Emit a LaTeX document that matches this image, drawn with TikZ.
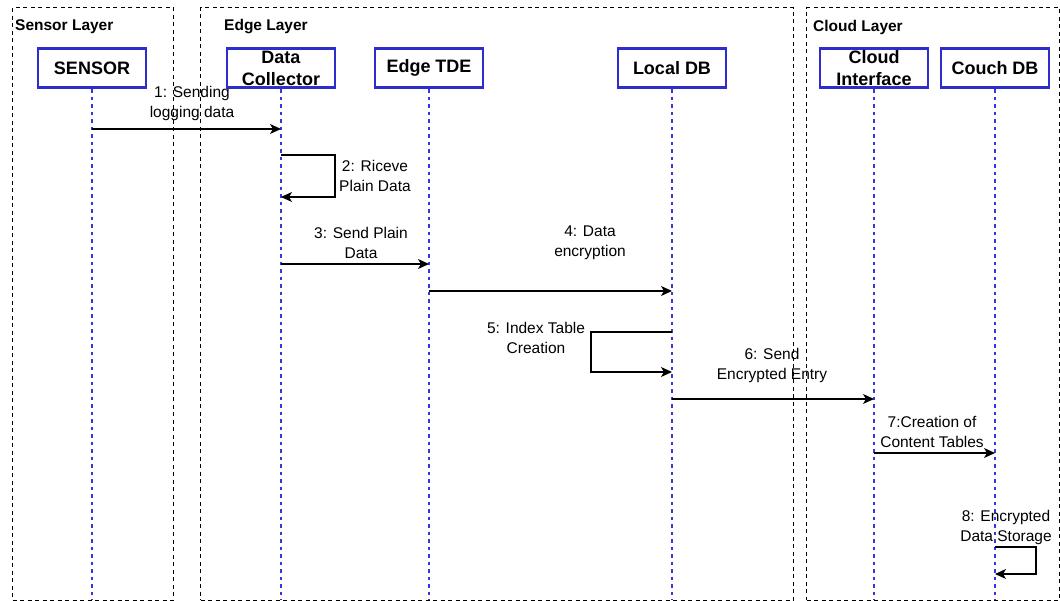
\documentclass[tikz,border=0pt]{standalone}
\usepackage{fontspec}
\setmainfont{Liberation Sans}
\usetikzlibrary{arrows.meta}
\definecolor{lifeblue}{RGB}{55,55,225}
\definecolor{boxblue}{RGB}{45,45,205}
\begin{document}
\begin{tikzpicture}[x=1pt,y=-1pt,
  layer/.style={draw=black, line width=1.2pt, dash pattern=on 4pt off 3.5pt,
    anchor=north west, inner sep=0pt},
  layertitle/.style={anchor=west, inner sep=0pt,
    font=\fontsize{15.5}{18}\selectfont\bfseries},
  actor/.style={draw=boxblue, line width=2.6pt, fill=white, minimum width=108pt,
    minimum height=39.5pt, inner sep=0pt, align=center,
    font=\fontsize{18}{22}\selectfont\bfseries},
  lifeline/.style={draw=lifeblue, line width=1.3pt, dash pattern=on 3.5pt off 4pt},
  msg/.style={draw=black, line width=1.1pt,
    -{Stealth[length=11pt,width=10pt,inset=3pt]}},
  msglabel/.style={align=center, inner sep=0pt,
    font=\fontsize{15.5}{20}\selectfont}
]
\useasboundingbox (0,0) rectangle (1060,601);

% layer frames
\node[layer, minimum width=161pt, minimum height=592.5pt] (sensorlayer) at (12,7) {};
\node[layer, minimum width=593pt, minimum height=592.5pt] (edgelayer) at (200,7) {};
\node[layer, minimum width=253pt, minimum height=592.5pt] (cloudlayer) at (806,7) {};
\node[layertitle] (sensortitle) at (15,27) {Sensor Layer};
\node[layertitle] (edgetitle) at (224,27) {Edge Layer};
\node[layertitle] (cloudtitle) at (813,27) {Cloud Layer};

% participants
\node[actor] (sensor) at (92,68) {SENSOR};
\node[actor] (collector) at (281,68) {Data\\Collector};
\node[actor] (tde) at (429,68) {Edge TDE};
\node[actor] (localdb) at (672,68) {Local DB};
\node[actor] (cloudif) at (874,68) {Cloud\\Interface};
\node[actor] (couchdb) at (995,68) {Couch DB};

% lifelines
\foreach \p in {sensor,collector,tde,localdb,cloudif,couchdb}{
  \coordinate (\p-end) at (\p.south |- 0,599.5);
  \draw[lifeline] (\p.south) -- (\p-end);
}

% message end points on the lifelines
\coordinate (m1a) at (sensor |- 0,129);
\coordinate (m1b) at (collector |- 0,129);
\coordinate (m2a) at (collector |- 0,155);
\coordinate (m2b) at (collector |- 0,197);
\coordinate (m3a) at (collector |- 0,264);
\coordinate (m3b) at (tde |- 0,264);
\coordinate (m4a) at (tde |- 0,291);
\coordinate (m4b) at (localdb |- 0,291);
\coordinate (m5a) at (localdb |- 0,332);
\coordinate (m5b) at (localdb |- 0,372);
\coordinate (m6a) at (localdb |- 0,399);
\coordinate (m6b) at (cloudif |- 0,399);
\coordinate (m7a) at (cloudif |- 0,453);
\coordinate (m7b) at (couchdb |- 0,453);
\coordinate (m8a) at (couchdb |- 0,547);
\coordinate (m8b) at (couchdb |- 0,574);

% messages
\draw[msg] (m1a) -- (m1b);
\draw[msg] (m2a) -- ++(54,0) |- (m2b);
\draw[msg] (m3a) -- (m3b);
\draw[msg] (m4a) -- (m4b);
\draw[msg] (m5a) -- ++(-81,0) |- (m5b);
\draw[msg] (m6a) -- (m6b);
\draw[msg] (m7a) -- (m7b);
\draw[msg] (m8a) -- ++(41,0) |- (m8b);

% message labels
\node[msglabel] (l1) at (192,103) {1: Sending\\logging data};
\node[msglabel] (l2) at (375,176) {2: Riceve\\Plain Data};
\node[msglabel] (l3) at (361,243) {3: Send Plain\\Data};
\node[msglabel] (l4) at (590,243) {4: Data\\encryption};
\node[msglabel] (l5) at (536,338) {5: Index Table\\Creation};
\node[msglabel] (l6) at (772,365) {6: Send\\Encrypted Entry};
\node[msglabel] (l7) at (932,432) {7:Creation of\\Content Tables};
\node[msglabel] (l8) at (1006,527) {8: Encrypted\\Data Storage};
\end{tikzpicture}
\end{document}
